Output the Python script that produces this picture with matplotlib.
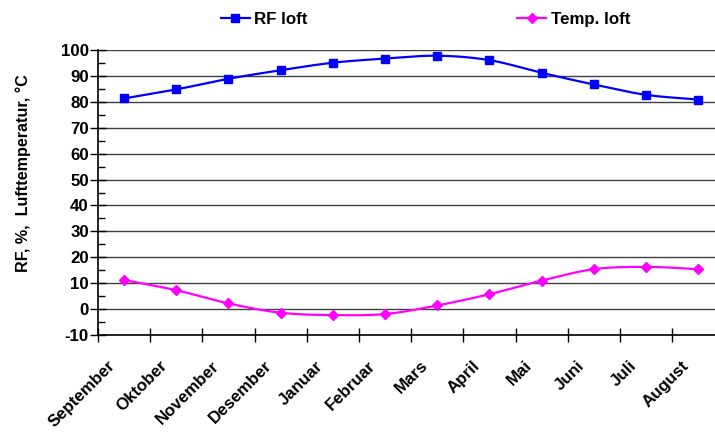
import numpy as np
import matplotlib.pyplot as plt
import matplotlib.transforms as mtransforms
from matplotlib.ticker import MultipleLocator

months = ['September', 'Oktober', 'November', 'Desember', 'Januar', 'Februar',
          'Mars', 'April', 'Mai', 'Juni', 'Juli', 'August']
rf_loft = [81.3, 84.8, 88.9, 92.2, 95.1, 96.7, 97.8, 96.1, 91.2, 86.7, 82.7, 80.9]
temp_loft = [11.2, 7.3, 2.2, -1.4, -2.3, -1.9, 1.4, 5.75, 11.0, 15.4, 16.3, 15.4]

plt.rcParams['font.family'] = ['Liberation Sans', 'DejaVu Sans']
plt.rcParams['font.weight'] = 'bold'
plt.rcParams['axes.unicode_minus'] = False
FS = 12.2


def smooth(x, y, n=20):
    # Catmull-Rom style smoothing like Excel's smoothed lines
    x = np.asarray(x, float)
    y = np.asarray(y, float)
    px = np.concatenate([[x[0]], x, [x[-1]]])
    py = np.concatenate([[y[0]], y, [y[-1]]])
    xs, ys = [], []
    t = np.linspace(0, 1, n)
    for i in range(1, len(px) - 2):
        p0, p1, p2, p3 = [np.array([px[j], py[j]]) for j in (i - 1, i, i + 1, i + 2)]
        c1 = p1 + (p2 - p0) / 6
        c2 = p2 - (p3 - p1) / 6
        b = ((1 - t) ** 3)[:, None] * p1 + (3 * (1 - t) ** 2 * t)[:, None] * c1 \
            + (3 * (1 - t) * t ** 2)[:, None] * c2 + (t ** 3)[:, None] * p2
        xs.extend(b[:, 0])
        ys.extend(b[:, 1])
    return xs, ys


fig = plt.figure(figsize=(7.15, 4.32), dpi=100)
ax = fig.add_axes([0.137, 0.2245, 0.876, 0.6597])

x = np.arange(len(months))
sx, sy = smooth(x, rf_loft)
ax.plot(sx, sy, color='#0000ff', lw=1.6, zorder=3)
ax.plot(x, rf_loft, ls='none', marker='s', ms=5.5, color='#0000ff', zorder=4)
sx, sy = smooth(x, temp_loft)
ax.plot(sx, sy, color='#ff00ff', lw=1.6, zorder=3)
ax.plot(x, temp_loft, ls='none', marker='D', ms=5.5, color='#ff00ff', zorder=4)

# legend proxies
h1, = ax.plot([], [], color='#0000ff', lw=1.6, marker='s', ms=5.5)
h2, = ax.plot([], [], color='#ff00ff', lw=1.6, marker='D', ms=5.5)
fig.legend([h1, h2], ['RF loft', 'Temp. loft'], loc='upper center',
           bbox_to_anchor=(0.595, 1.0), ncol=2, frameon=False,
           prop={'size': FS, 'weight': 'bold'}, columnspacing=12.4,
           handlelength=1.7, handletextpad=0.25, borderaxespad=0.3)

ax.set_xlim(-0.5, len(months) - 0.5)
ax.set_ylim(-10, 100)
ax.yaxis.set_major_locator(MultipleLocator(10))
ax.yaxis.set_minor_locator(MultipleLocator(5))
ax.set_xticks(np.arange(-0.5, len(months), 1.0))
ax.set_xticklabels([])

# month labels, rotated like the original
trans = ax.get_xaxis_transform() + mtransforms.ScaledTranslation(
    -0.17, -0.23, fig.dpi_scale_trans)
for i, m in enumerate(months):
    ax.text(i, 0, m, transform=trans, rotation=45, ha='right', va='top',
            rotation_mode='anchor', fontsize=FS, fontweight='bold')

ax.tick_params(axis='x', which='major', direction='inout', length=10, width=1)
ax.tick_params(axis='y', which='major', direction='inout', length=11, width=1,
               labelsize=FS, pad=1)
ax.tick_params(axis='y', which='minor', direction='in', length=5, width=1)
for lbl in ax.get_yticklabels():
    lbl.set_fontweight('bold')

ax.grid(axis='y', which='major', color='#404040', lw=1)
ax.set_axisbelow(True)
for s in ['top', 'right']:
    ax.spines[s].set_visible(False)
ax.spines['left'].set_linewidth(1.2)
ax.spines['bottom'].set_linewidth(1.2)

fig.text(23 / 715, 1 - 173 / 432, 'RF, %,  Lufttemperatur, °C', rotation=90,
         ha='center', va='center', fontsize=11.6, fontweight='bold')

fig.savefig('out.png', dpi=100)
